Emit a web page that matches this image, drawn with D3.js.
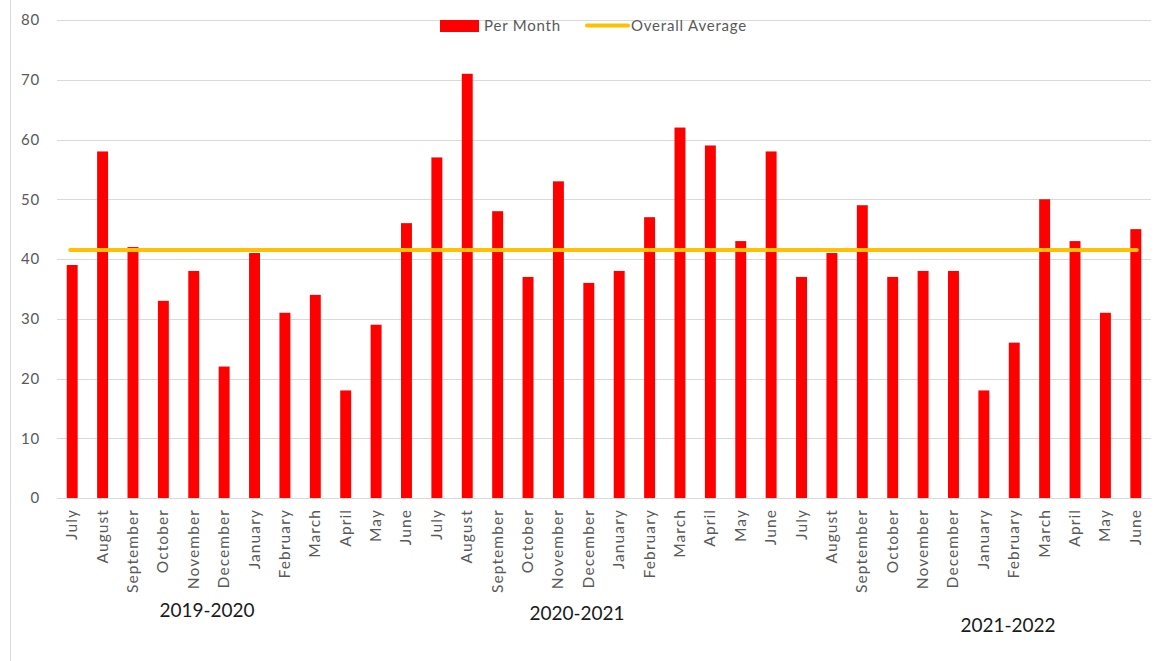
<!DOCTYPE html>
<html>
<head>
<meta charset="utf-8">
<script src="https://cdn.jsdelivr.net/npm/d3@7"></script>
<style>
  body { margin: 0; background: #fff; }
  svg { display: block; font-family: Lato, "Open Sans", sans-serif; }
</style>
</head>
<body>
<div id="chart-area"></div>
<script>
// Data
let months = ["July", "August", "September", "October", "November", "December",
    "January", "February", "March", "April", "May", "June"];
let seasons = ["2019-2020", "2020-2021", "2021-2022"];
let perMonth = [
    39, 58, 42, 33, 38, 22, 41, 31, 34, 18, 29, 46,
    57, 71, 48, 37, 53, 36, 38, 47, 62, 59, 43, 58,
    37, 41, 49, 37, 38, 38, 18, 26, 50, 43, 31, 45
];
let overallAverage = 41.5;
let yTicks = [0, 10, 20, 30, 40, 50, 60, 70, 80];

let width = 1157,
    height = 661;

let svg = d3.select("#chart-area").append("svg")
    .attr("width", width)
    .attr("height", height);

// left edge of the chart frame
svg.append("line")
    .attr("x1", 10.5).attr("x2", 10.5)
    .attr("y1", 0).attr("y2", height)
    .attr("stroke", "#d9d9d9");

let data = perMonth.map((v, i) => ({idx: i, month: months[i % 12], value: v}));

// Scales
let x = d3.scaleBand()
    .domain(data.map(d => d.idx))
    .range([57, 1151])
    .paddingInner(0.64)
    .paddingOuter(0.32);

let y = d3.scaleLinear()
    .domain([0, 80])
    .range([498, 20]);

// Gridlines
svg.append("g")
    .selectAll("line")
    .data(yTicks)
    .enter()
    .append("line")
    .attr("x1", 57).attr("x2", 1151)
    .attr("y1", d => Math.round(y(d)) + 0.5)
    .attr("y2", d => Math.round(y(d)) + 0.5)
    .attr("stroke", "#d9d9d9");

// Y axis labels
let yAxis = d3.axisLeft(y).tickValues(yTicks).tickSize(0).tickPadding(0);
let yAxisGroup = svg.append("g")
    .attr("class", "y-axis axis")
    .attr("transform", "translate(40,0)")
    .call(yAxis);
yAxisGroup.select(".domain").remove();
yAxisGroup.selectAll("text")
    .style("font-family", "Lato, 'Open Sans', sans-serif")
    .style("font-size", "15px")
    .style("letter-spacing", "0.8px")
    .attr("fill", "#595959");

// Bars
svg.selectAll(".bar")
    .data(data)
    .enter()
    .append("rect")
    .attr("class", "bar")
    .attr("x", d => x(d.idx))
    .attr("y", d => y(d.value))
    .attr("width", x.bandwidth())
    .attr("height", d => y(0) - y(d.value))
    .attr("fill", "#ff0000");

// Overall average line
let first = data[0].idx, last = data[data.length - 1].idx;
svg.append("line")
    .attr("x1", x(first) + x.bandwidth() / 2 - 2)
    .attr("x2", x(last) + x.bandwidth() / 2 + 1)
    .attr("y1", y(overallAverage))
    .attr("y2", y(overallAverage))
    .attr("stroke", "#ffc000")
    .attr("stroke-width", 4)
    .attr("stroke-linecap", "round");

// X axis (month labels, rotated)
let xAxis = d3.axisBottom(x)
    .tickSize(0)
    .tickPadding(0)
    .tickFormat(i => months[i % 12]);
let xAxisGroup = svg.append("g")
    .attr("class", "x-axis axis")
    .attr("transform", "translate(0," + y(0) + ")")
    .call(xAxis);
xAxisGroup.select(".domain").remove();
xAxisGroup.selectAll("text")
    .style("font-family", "Lato, 'Open Sans', sans-serif")
    .style("font-size", "15.5px")
    .style("letter-spacing", "1.1px")
    .attr("fill", "#595959")
    .attr("y", 0)
    .attr("x", 0)
    .attr("dy", null)
    .attr("transform", "translate(5,11) rotate(-90)")
    .style("text-anchor", "end");

// baseline
svg.append("line")
    .attr("x1", 57).attr("x2", 1151)
    .attr("y1", Math.round(y(0)) + 0.5).attr("y2", Math.round(y(0)) + 0.5)
    .attr("stroke", "#d9d9d9");

// Season labels
let seasonPos = [{x: 207, y: 617}, {x: 577, y: 620}, {x: 1008, y: 632}];
svg.selectAll(".season")
    .data(seasons)
    .enter()
    .append("text")
    .attr("class", "season")
    .attr("x", (d, i) => seasonPos[i].x)
    .attr("y", (d, i) => seasonPos[i].y)
    .attr("text-anchor", "middle")
    .style("font-size", "19px")
    .attr("fill", "#1a1a1a")
    .text(d => d);

// Legend
let legend = svg.append("g").attr("class", "legend")
    .style("font-size", "15px")
    .style("letter-spacing", "0.8px");
legend.append("rect")
    .attr("x", 440).attr("y", 20)
    .attr("width", 39).attr("height", 12)
    .attr("fill", "#ff0000");
legend.append("text")
    .attr("x", 484).attr("y", 31)
    .attr("fill", "#595959")
    .text("Per Month");
legend.append("line")
    .attr("x1", 587).attr("x2", 628)
    .attr("y1", 25.5).attr("y2", 25.5)
    .attr("stroke", "#ffc000")
    .attr("stroke-width", 4)
    .attr("stroke-linecap", "round");
legend.append("text")
    .attr("x", 631).attr("y", 31)
    .attr("fill", "#595959")
    .text("Overall Average");
</script>
</body>
</html>
